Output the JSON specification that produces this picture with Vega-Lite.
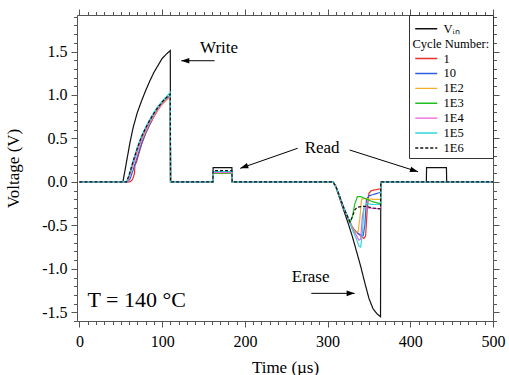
{
  "$schema": "https://vega.github.io/schema/vega-lite/v6.json",
  "width": 416,
  "height": 306,
  "autosize": "none",
  "padding": {"left": 77, "top": 15, "right": 16, "bottom": 54},
  "config": {
    "view": {"stroke": null},
    "font": "Liberation Serif",
    "legend": {"labelFont": "Liberation Serif", "labelFontSize": 12.5, "labelColor": "black"},
    "axis": {
      "domainColor": "#555",
      "tickColor": "#555",
      "labelFont": "Liberation Serif",
      "labelFontSize": 16,
      "labelColor": "black",
      "titleFont": "Liberation Serif",
      "titleFontSize": 17,
      "titleFontWeight": "normal",
      "titleColor": "black",
      "grid": false,
      "labelFlush": false,
      "labelOverlap": false
    }
  },
  "datasets": {
    "sig": [
      {"s":"Vin","t":0,"v":0},{"s":"Vin","t":52.5,"v":0},{"s":"Vin","t":55,"v":0.13},{"s":"Vin","t":58,"v":0.29},{"s":"Vin","t":61,"v":0.45},{"s":"Vin","t":65,"v":0.63},{"s":"Vin","t":70,"v":0.8},{"s":"Vin","t":75,"v":0.93},{"s":"Vin","t":80,"v":1.05},{"s":"Vin","t":85,"v":1.16},{"s":"Vin","t":90,"v":1.26},{"s":"Vin","t":95,"v":1.34},{"s":"Vin","t":100,"v":1.42},{"s":"Vin","t":105,"v":1.47},{"s":"Vin","t":109.8,"v":1.51},{"s":"Vin","t":110.1,"v":0},{"s":"Vin","t":161.3,"v":0},{"s":"Vin","t":161.6,"v":0.165},{"s":"Vin","t":184.3,"v":0.165},{"s":"Vin","t":184.6,"v":0},{"s":"Vin","t":306.5,"v":0},{"s":"Vin","t":310,"v":-0.06},{"s":"Vin","t":315,"v":-0.2},{"s":"Vin","t":320,"v":-0.34},{"s":"Vin","t":325,"v":-0.48},{"s":"Vin","t":330,"v":-0.63},{"s":"Vin","t":335,"v":-0.8},{"s":"Vin","t":340,"v":-0.97},{"s":"Vin","t":345,"v":-1.16},{"s":"Vin","t":350,"v":-1.34},{"s":"Vin","t":355,"v":-1.46},{"s":"Vin","t":360,"v":-1.52},{"s":"Vin","t":364,"v":-1.55},{"s":"Vin","t":364.3,"v":0},{"s":"Vin","t":419.4,"v":0},{"s":"Vin","t":419.7,"v":0.165},{"s":"Vin","t":443.7,"v":0.165},{"s":"Vin","t":444,"v":0},{"s":"Vin","t":500,"v":0},

      {"s":"1","t":0,"v":0},{"s":"1","t":61,"v":0},{"s":"1","t":63.5,"v":0.02},{"s":"1","t":65,"v":0.05},{"s":"1","t":66.5,"v":0.1},{"s":"1","t":67,"v":0.19},{"s":"1","t":69,"v":0.23},{"s":"1","t":71,"v":0.3},{"s":"1","t":75,"v":0.43},{"s":"1","t":80,"v":0.56},{"s":"1","t":85,"v":0.66},{"s":"1","t":90,"v":0.75},{"s":"1","t":95,"v":0.83},{"s":"1","t":100,"v":0.9},{"s":"1","t":105,"v":0.95},{"s":"1","t":109.8,"v":0.98},{"s":"1","t":110.1,"v":0},{"s":"1","t":161.3,"v":0},{"s":"1","t":161.6,"v":0.1},{"s":"1","t":184.3,"v":0.1},{"s":"1","t":184.6,"v":0},{"s":"1","t":306.5,"v":0},{"s":"1","t":310,"v":-0.05},{"s":"1","t":315,"v":-0.18},{"s":"1","t":320,"v":-0.31},{"s":"1","t":325,"v":-0.42},{"s":"1","t":330,"v":-0.52},{"s":"1","t":335,"v":-0.58},{"s":"1","t":340,"v":-0.62},{"s":"1","t":344,"v":-0.65},{"s":"1","t":346,"v":-0.62},{"s":"1","t":348,"v":-0.3},{"s":"1","t":350,"v":-0.13},{"s":"1","t":353,"v":-0.1},{"s":"1","t":364,"v":-0.08},{"s":"1","t":364.3,"v":0},{"s":"1","t":500,"v":0},

      {"s":"10","t":0,"v":0},{"s":"10","t":58,"v":0},{"s":"10","t":61,"v":0.03},{"s":"10","t":65,"v":0.14},{"s":"10","t":70,"v":0.29},{"s":"10","t":75,"v":0.44},{"s":"10","t":80,"v":0.56},{"s":"10","t":85,"v":0.66},{"s":"10","t":90,"v":0.76},{"s":"10","t":95,"v":0.84},{"s":"10","t":100,"v":0.9},{"s":"10","t":105,"v":0.95},{"s":"10","t":109.8,"v":0.99},{"s":"10","t":110.1,"v":0},{"s":"10","t":161.3,"v":0},{"s":"10","t":161.6,"v":0.11},{"s":"10","t":184.3,"v":0.11},{"s":"10","t":184.6,"v":0},{"s":"10","t":306.5,"v":0},{"s":"10","t":310,"v":-0.05},{"s":"10","t":315,"v":-0.18},{"s":"10","t":320,"v":-0.31},{"s":"10","t":325,"v":-0.42},{"s":"10","t":330,"v":-0.53},{"s":"10","t":335,"v":-0.58},{"s":"10","t":340,"v":-0.61},{"s":"10","t":343,"v":-0.62},{"s":"10","t":345,"v":-0.5},{"s":"10","t":347,"v":-0.2},{"s":"10","t":350,"v":-0.16},{"s":"10","t":357,"v":-0.14},{"s":"10","t":364,"v":-0.12},{"s":"10","t":364.3,"v":0},{"s":"10","t":500,"v":0},

      {"s":"1E2","t":0,"v":0},{"s":"1E2","t":58,"v":0},{"s":"1E2","t":60,"v":0.05},{"s":"1E2","t":65,"v":0.2},{"s":"1E2","t":70,"v":0.35},{"s":"1E2","t":75,"v":0.48},{"s":"1E2","t":80,"v":0.58},{"s":"1E2","t":85,"v":0.68},{"s":"1E2","t":90,"v":0.76},{"s":"1E2","t":95,"v":0.83},{"s":"1E2","t":100,"v":0.89},{"s":"1E2","t":105,"v":0.94},{"s":"1E2","t":109.8,"v":0.97},{"s":"1E2","t":110.1,"v":0},{"s":"1E2","t":161.3,"v":0},{"s":"1E2","t":161.6,"v":0.1},{"s":"1E2","t":184.3,"v":0.1},{"s":"1E2","t":184.6,"v":0},{"s":"1E2","t":306.5,"v":0},{"s":"1E2","t":310,"v":-0.05},{"s":"1E2","t":315,"v":-0.18},{"s":"1E2","t":320,"v":-0.31},{"s":"1E2","t":325,"v":-0.42},{"s":"1E2","t":330,"v":-0.53},{"s":"1E2","t":334,"v":-0.58},{"s":"1E2","t":337,"v":-0.57},{"s":"1E2","t":339,"v":-0.42},{"s":"1E2","t":341,"v":-0.2},{"s":"1E2","t":345,"v":-0.19},{"s":"1E2","t":355,"v":-0.2},{"s":"1E2","t":364,"v":-0.2},{"s":"1E2","t":364.3,"v":0},{"s":"1E2","t":500,"v":0},

      {"s":"1E3","t":0,"v":0},{"s":"1E3","t":57,"v":0},{"s":"1E3","t":60,"v":0.07},{"s":"1E3","t":65,"v":0.23},{"s":"1E3","t":70,"v":0.38},{"s":"1E3","t":75,"v":0.51},{"s":"1E3","t":80,"v":0.61},{"s":"1E3","t":85,"v":0.7},{"s":"1E3","t":90,"v":0.78},{"s":"1E3","t":95,"v":0.85},{"s":"1E3","t":100,"v":0.91},{"s":"1E3","t":105,"v":0.96},{"s":"1E3","t":109.8,"v":1.0},{"s":"1E3","t":110.1,"v":0},{"s":"1E3","t":161.3,"v":0},{"s":"1E3","t":161.6,"v":0.1},{"s":"1E3","t":184.3,"v":0.1},{"s":"1E3","t":184.6,"v":0},{"s":"1E3","t":306.5,"v":0},{"s":"1E3","t":310,"v":-0.05},{"s":"1E3","t":315,"v":-0.18},{"s":"1E3","t":320,"v":-0.31},{"s":"1E3","t":325,"v":-0.42},{"s":"1E3","t":327.5,"v":-0.46},{"s":"1E3","t":330,"v":-0.4},{"s":"1E3","t":333,"v":-0.25},{"s":"1E3","t":336,"v":-0.17},{"s":"1E3","t":340,"v":-0.17},{"s":"1E3","t":345,"v":-0.19},{"s":"1E3","t":350,"v":-0.21},{"s":"1E3","t":355,"v":-0.23},{"s":"1E3","t":364,"v":-0.25},{"s":"1E3","t":364.3,"v":0},{"s":"1E3","t":500,"v":0},

      {"s":"1E4","t":0,"v":0},{"s":"1E4","t":58,"v":0},{"s":"1E4","t":60,"v":0.05},{"s":"1E4","t":65,"v":0.21},{"s":"1E4","t":70,"v":0.36},{"s":"1E4","t":75,"v":0.49},{"s":"1E4","t":80,"v":0.6},{"s":"1E4","t":85,"v":0.69},{"s":"1E4","t":90,"v":0.77},{"s":"1E4","t":95,"v":0.84},{"s":"1E4","t":100,"v":0.9},{"s":"1E4","t":105,"v":0.95},{"s":"1E4","t":109.8,"v":0.99},{"s":"1E4","t":110.1,"v":0},{"s":"1E4","t":161.3,"v":0},{"s":"1E4","t":161.6,"v":0.11},{"s":"1E4","t":184.3,"v":0.11},{"s":"1E4","t":184.6,"v":0},{"s":"1E4","t":306.5,"v":0},{"s":"1E4","t":310,"v":-0.05},{"s":"1E4","t":315,"v":-0.18},{"s":"1E4","t":320,"v":-0.31},{"s":"1E4","t":325,"v":-0.42},{"s":"1E4","t":330,"v":-0.54},{"s":"1E4","t":335,"v":-0.62},{"s":"1E4","t":338,"v":-0.67},{"s":"1E4","t":340,"v":-0.66},{"s":"1E4","t":342,"v":-0.4},{"s":"1E4","t":344,"v":-0.3},{"s":"1E4","t":350,"v":-0.3},{"s":"1E4","t":364,"v":-0.31},{"s":"1E4","t":364.3,"v":0},{"s":"1E4","t":500,"v":0},

      {"s":"1E5","t":0,"v":0},{"s":"1E5","t":57,"v":0},{"s":"1E5","t":60,"v":0.08},{"s":"1E5","t":65,"v":0.25},{"s":"1E5","t":70,"v":0.4},{"s":"1E5","t":75,"v":0.53},{"s":"1E5","t":80,"v":0.63},{"s":"1E5","t":85,"v":0.72},{"s":"1E5","t":90,"v":0.8},{"s":"1E5","t":95,"v":0.87},{"s":"1E5","t":100,"v":0.93},{"s":"1E5","t":105,"v":0.98},{"s":"1E5","t":109.8,"v":1.03},{"s":"1E5","t":110.1,"v":0},{"s":"1E5","t":161.3,"v":0},{"s":"1E5","t":161.6,"v":0.12},{"s":"1E5","t":184.3,"v":0.12},{"s":"1E5","t":184.6,"v":0},{"s":"1E5","t":306.5,"v":0},{"s":"1E5","t":310,"v":-0.05},{"s":"1E5","t":315,"v":-0.18},{"s":"1E5","t":320,"v":-0.31},{"s":"1E5","t":325,"v":-0.42},{"s":"1E5","t":330,"v":-0.55},{"s":"1E5","t":335,"v":-0.66},{"s":"1E5","t":338,"v":-0.74},{"s":"1E5","t":340,"v":-0.75},{"s":"1E5","t":342,"v":-0.6},{"s":"1E5","t":344,"v":-0.3},{"s":"1E5","t":347,"v":-0.25},{"s":"1E5","t":355,"v":-0.26},{"s":"1E5","t":364,"v":-0.26},{"s":"1E5","t":364.3,"v":0},{"s":"1E5","t":500,"v":0},

      {"s":"1E6","t":0,"v":0},{"s":"1E6","t":57,"v":0},{"s":"1E6","t":60,"v":0.08},{"s":"1E6","t":65,"v":0.24},{"s":"1E6","t":70,"v":0.39},{"s":"1E6","t":75,"v":0.52},{"s":"1E6","t":80,"v":0.62},{"s":"1E6","t":85,"v":0.71},{"s":"1E6","t":90,"v":0.79},{"s":"1E6","t":95,"v":0.86},{"s":"1E6","t":100,"v":0.92},{"s":"1E6","t":105,"v":0.97},{"s":"1E6","t":109.8,"v":1.01},{"s":"1E6","t":110.1,"v":0},{"s":"1E6","t":161.3,"v":0},{"s":"1E6","t":161.6,"v":0.13},{"s":"1E6","t":184.3,"v":0.13},{"s":"1E6","t":184.6,"v":0},{"s":"1E6","t":306.5,"v":0},{"s":"1E6","t":310,"v":-0.05},{"s":"1E6","t":315,"v":-0.18},{"s":"1E6","t":320,"v":-0.31},{"s":"1E6","t":325,"v":-0.42},{"s":"1E6","t":327,"v":-0.46},{"s":"1E6","t":330,"v":-0.4},{"s":"1E6","t":333,"v":-0.32},{"s":"1E6","t":336,"v":-0.29},{"s":"1E6","t":345,"v":-0.28},{"s":"1E6","t":355,"v":-0.3},{"s":"1E6","t":364,"v":-0.31},{"s":"1E6","t":364.3,"v":0},{"s":"1E6","t":500,"v":0}
    ],
    "ann": [
      {"label":"Write","t":168.8,"v":1.48},
      {"label":"Read","t":293.4,"v":0.33},
      {"label":"Erase","t":279.5,"v":-1.15}
    ],
    "temp": [
      {"label":"T = 140 °C","t":9.7,"v":-1.44}
    ],
    "arrows": [
      {"id":"w","t":163.3,"v":1.394,"t2":123.1,"v2":1.394},
      {"id":"r1","t":263.8,"v":0.387,"t2":194.4,"v2":0.156},
      {"id":"r2","t":326.7,"v":0.367,"t2":409.3,"v2":0.117},
      {"id":"e","t":280.3,"v":-1.282,"t2":332.7,"v2":-1.282}
    ]
  },
  "layer": [
    {
      "data": {"name": "sig"},
      "mark": {"type": "line", "strokeWidth": 1.2, "interpolate": "linear"},
      "encoding": {
        "x": {
          "field": "t", "type": "quantitative",
          "scale": {"domain": [-3, 500], "nice": false, "zero": false},
          "axis": {
            "orient": "bottom",
            "title": "Time (µs)",
            "values": [0,10,20,30,40,50,60,70,80,90,100,110,120,130,140,150,160,170,180,190,200,210,220,230,240,250,260,270,280,290,300,310,320,330,340,350,360,370,380,390,400,410,420,430,440,450,460,470,480,490,500],
            "labelExpr": "datum.value % 100 === 0 ? toString(datum.value) : ''",
            "tickSize": {"condition": {"test": "datum.value % 100 === 0", "value": 6}, "value": 3.5},
            "labelPadding": 6,
            "titlePadding": 10
          }
        },
        "y": {
          "field": "v", "type": "quantitative",
          "scale": {"domain": [-1.6, 1.92], "nice": false, "zero": false},
          "axis": {
            "orient": "left",
            "title": "Voltage (V)",
            "values": [-1.6,-1.5,-1.4,-1.3,-1.2,-1.1,-1.0,-0.9,-0.8,-0.7,-0.6,-0.5,-0.4,-0.3,-0.2,-0.1,0,0.1,0.2,0.3,0.4,0.5,0.6,0.7,0.8,0.9,1.0,1.1,1.2,1.3,1.4,1.5,1.6,1.7,1.8,1.9],
            "labelExpr": "abs(datum.value*2 - round(datum.value*2)) < 0.001 ? replace(format(datum.value, '.1f'), '−', '-') : ''",
            "tickSize": {"condition": {"test": "abs(datum.value*2 - round(datum.value*2)) < 0.001", "value": 6}, "value": 3.5},
            "labelPadding": 4,
            "titlePadding": 19
          }
        },
        "color": {
          "field": "s", "type": "nominal",
          "scale": {
            "domain": ["Vin", "Cycle Number:", "1", "10", "1E2", "1E3", "1E4", "1E5", "1E6"],
            "range": ["#111111", "#ffffff", "#e8302a", "#2f5fe0", "#f2b12c", "#1fbf1f", "#ee5ee0", "#2fd6dc", "#111111"]
          },
          "legend": {
            "title": " ",
            "titleFontSize": 3,
            "titlePadding": 1.5,
            "orient": "top-right",
            "offset": 0,
            "padding": 3,
            "strokeColor": "#333",
            "fillColor": "white",
            "symbolType": "M-0.6,0H3.8",
            "symbolSize": 100,
            "symbolStrokeWidth": 1.4,
            "symbolFillColor": "transparent",
            "labelFont": "Liberation Serif",
            "labelFontSize": 12.5,
            "labelColor": "black",
            "labelOffset": 19,
            "rowPadding": 1.9,
            "labelExpr": "datum.label == 'Vin' ? 'Vᵢₙ' : datum.label",
            "encode": {
              "symbols": {"update": {"strokeDash": {"signal": "datum.value === '1E6' ? [3, 2] : [1, 0]"}}},
              "labels": {"update": {"dx": {"signal": "datum.value === 'Cycle Number:' ? -31 : 0"}}}
            }
          }
        },
        "strokeDash": {
          "field": "s", "type": "nominal",
          "scale": {
            "domain": ["Vin", "Cycle Number:", "1", "10", "1E2", "1E3", "1E4", "1E5", "1E6"],
            "range": [[1,0],[1,0],[1,0],[1,0],[1,0],[1,0],[1,0],[1,0],[3,2]]
          },
          "legend": null
        }
      }
    },
    {
      "data": {"name": "ann"},
      "mark": {"type": "text", "font": "Liberation Serif", "fontSize": 17, "align": "center", "baseline": "alphabetic", "color": "black"},
      "encoding": {
        "x": {
          "field": "t", "type": "quantitative",
          "scale": {"domain": [-3, 500], "nice": false, "zero": false},
          "axis": {
            "orient": "top", "title": null, "labels": false,
            "values": [0,10,20,30,40,50,60,70,80,90,100,110,120,130,140,150,160,170,180,190,200,210,220,230,240,250,260,270,280,290,300,310,320,330,340,350,360,370,380,390,400,410,420,430,440,450,460,470,480,490,500],
            "tickSize": {"condition": {"test": "datum.value % 100 === 0", "value": 6}, "value": 3.5}
          }
        },
        "y": {
          "field": "v", "type": "quantitative",
          "scale": {"domain": [-1.6, 1.92], "nice": false, "zero": false},
          "axis": {
            "orient": "right", "title": null, "labels": false,
            "values": [-1.6,-1.5,-1.4,-1.3,-1.2,-1.1,-1.0,-0.9,-0.8,-0.7,-0.6,-0.5,-0.4,-0.3,-0.2,-0.1,0,0.1,0.2,0.3,0.4,0.5,0.6,0.7,0.8,0.9,1.0,1.1,1.2,1.3,1.4,1.5,1.6,1.7,1.8,1.9],
            "tickSize": {"condition": {"test": "abs(datum.value*2 - round(datum.value*2)) < 0.001", "value": 6}, "value": 3.5}
          }
        },
        "text": {"field": "label"}
      }
    },
    {
      "data": {"name": "temp"},
      "mark": {"type": "text", "font": "Liberation Serif", "fontSize": 22, "align": "left", "baseline": "alphabetic", "color": "black"},
      "encoding": {
        "x": {"field": "t", "type": "quantitative", "scale": {"domain": [-3, 500], "nice": false, "zero": false}, "axis": null},
        "y": {"field": "v", "type": "quantitative", "scale": {"domain": [-1.6, 1.92], "nice": false, "zero": false}, "axis": null},
        "text": {"field": "label"}
      }
    },
    {
      "data": {"name": "arrows"},
      "mark": {"type": "rule", "color": "black", "strokeWidth": 1},
      "encoding": {
        "x": {"field": "t", "type": "quantitative", "scale": {"domain": [-3, 500], "nice": false, "zero": false}, "axis": null},
        "y": {"field": "v", "type": "quantitative", "scale": {"domain": [-1.6, 1.92], "nice": false, "zero": false}, "axis": null},
        "x2": {"field": "t2"},
        "y2": {"field": "v2"}
      }
    },
    {
      "data": {"name": "arrows"},
      "mark": {"type": "point", "shape": "M0,0L0.35,1L-0.35,1Z", "filled": true, "color": "black", "size": 256, "opacity": 1},
      "encoding": {
        "x": {"field": "t2", "type": "quantitative", "scale": {"domain": [-3, 500], "nice": false, "zero": false}, "axis": null},
        "y": {"field": "v2", "type": "quantitative", "scale": {"domain": [-1.6, 1.92], "nice": false, "zero": false}, "axis": null},
        "angle": {
          "condition": [
            {"test": "datum.id === 'w'", "value": 270},
            {"test": "datum.id === 'r1'", "value": 250.7},
            {"test": "datum.id === 'r2'", "value": 107.6}
          ],
          "value": 90
        }
      }
    }
  ],
  "resolve": {"axis": {"x": "independent", "y": "independent"}}
}
